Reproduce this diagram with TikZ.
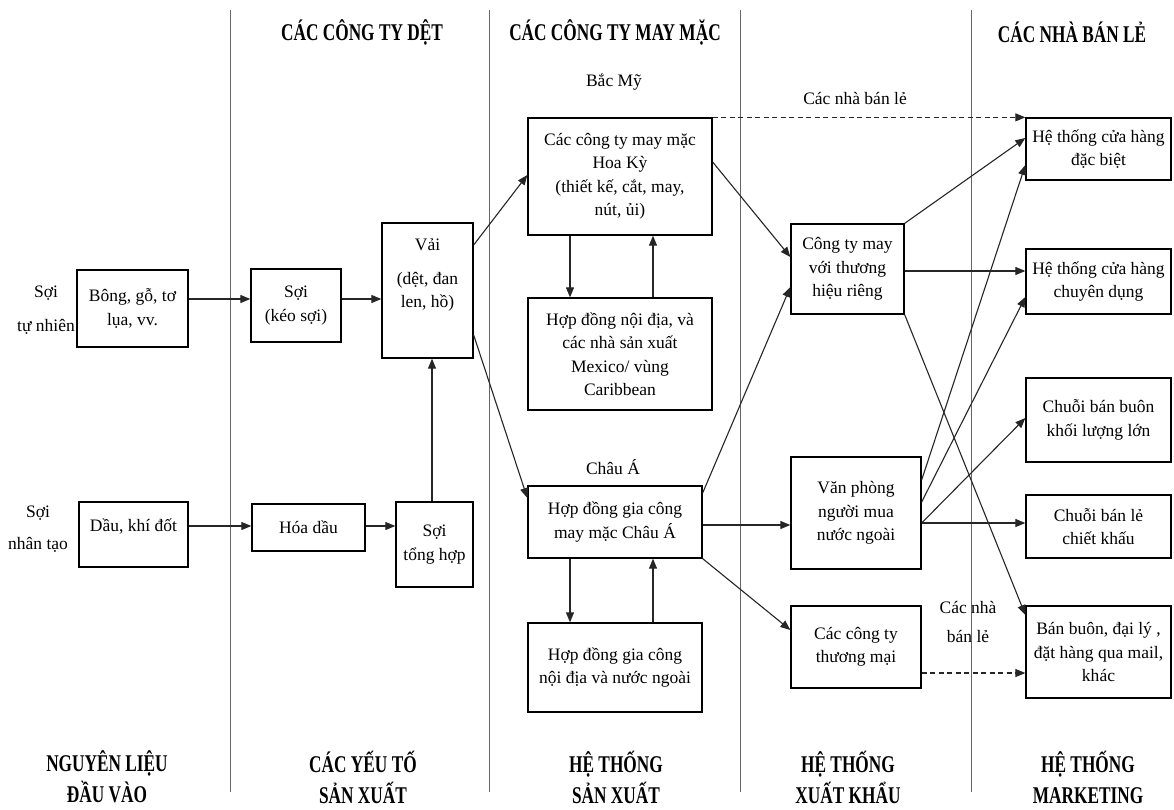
\documentclass[tikz,border=0pt]{standalone}
\usepackage{fontspec}
\setmainfont{Liberation Serif}
\newfontfamily\hdrfont[FakeStretch=0.72]{Liberation Serif}
\usetikzlibrary{arrows.meta}
\begin{document}
\begin{tikzpicture}[x=1pt,y=-1pt,
 bx/.style={draw, line width=1.3pt, align=center, inner sep=0pt, font=\fontsize{17.5}{23.5}\selectfont},
 lbl/.style={align=center, inner sep=0pt, font=\fontsize{17.5}{23.5}\selectfont},
 hdr/.style={align=center, inner sep=0pt, font=\hdrfont\bfseries\fontsize{24}{31}\selectfont},
 div/.style={draw=black!60, line width=1pt},
 arr/.style={draw=black!85, line width=1.1pt, -{Triangle[length=10pt,width=8pt]}},
 darr/.style={arr, dash pattern=on 5pt off 3.5pt},
]
\fill[white] (0,0) rectangle (1174,809);
\useasboundingbox (0,0) rectangle (1174,809);

% column dividers
\draw[div] (230,10) -- (230,792);
\draw[div] (489,10) -- (489,792);
\draw[div] (740,10) -- (740,792);
\draw[div] (971,10) -- (971,792);

% headers
\node[hdr] (h1) at (362,32) {CÁC CÔNG TY DỆT};
\node[hdr] (h2) at (615,32) {CÁC CÔNG TY MAY MẶC};
\node[hdr] (h3) at (1072,32) {CÁC NHÀ BÁN LẺ};

% footers
\node[hdr] (f1) at (107,777) {NGUYÊN LIỆU\\ĐẦU VÀO};
\node[hdr] (f2) at (363,777) {CÁC YẾU TỐ\\SẢN XUẤT};
\node[hdr] (f3) at (616,777) {HỆ THỐNG\\SẢN XUẤT};
\node[hdr] (f4) at (848,777) {HỆ THỐNG\\XUẤT KHẨU};
\node[hdr] (f5) at (1088,777) {HỆ THỐNG\\MARKETING};

% side labels
\node[lbl] (sn1) at (46,293) {Sợi};
\node[lbl] (sn2) at (46,327) {tự nhiên};
\node[lbl] (nt1) at (38,513) {Sợi};
\node[lbl] (nt2) at (38,545) {nhân tạo};
\node[lbl] (bacmy) at (614,82) {Bắc Mỹ};
\node[lbl] (chauAlbl) at (613,467) {Châu Á};
\node[lbl] (retail1) at (855,98) {Các nhà bán lẻ};
\node[lbl] (retail2) at (968,622) {Các nhà\\[5pt]bán lẻ};

% boxes
\node[bx, minimum width=111pt, minimum height=77pt] (bong) at (132.5,308.5) {Bông, gỗ, tơ\\lụa, vv.};
\node[bx, minimum width=90pt, minimum height=73pt] (soi) at (296,305.5) {Sợi\\(kéo sợi)};
\node[bx, minimum width=91pt, minimum height=135pt] (vai) at (427.5,290.5) {};
\node[lbl] (vaitxt) at (427.5,275) {Vải\\[10pt](dệt, đan\\len, hồ)};
\node[bx, minimum width=109pt, minimum height=65pt] (dau) at (133.5,534.5) {};
\node[lbl] (dautxt) at (133.5,526) {Dầu, khí đốt};
\node[bx, minimum width=113pt, minimum height=47pt] (hoadau) at (308.5,527.5) {Hóa dầu};
\node[bx, minimum width=77pt, minimum height=85pt] (tonghop) at (434.5,544.5) {Sợi\\tổng hợp};

\node[bx, minimum width=184pt, minimum height=117pt] (hoaky) at (620,176.5) {Các công ty may mặc\\Hoa Kỳ\\(thiết kế, cắt, may,\\nút, ủi)};
\node[bx, minimum width=184pt, minimum height=112pt] (mexico) at (620,354) {Hợp đồng nội địa, và\\các nhà sản xuất\\Mexico/ vùng\\Caribbean};
\node[bx, minimum width=174pt, minimum height=72pt] (chaua) at (615,522) {Hợp đồng gia công\\may mặc Châu Á};
\node[bx, minimum width=174pt, minimum height=89pt] (noidia) at (615,667.5) {Hợp đồng gia công\\nội địa và nước ngoài};

\node[bx, minimum width=113pt, minimum height=90pt] (congtymay) at (847.5,269) {Công ty may\\với thương\\hiệu riêng};
\node[bx, minimum width=130pt, minimum height=112pt] (vanphong) at (856,513) {Văn phòng\\người mua\\nước ngoài};
\node[bx, minimum width=130pt, minimum height=82pt] (thuongmai) at (856,647) {Các công ty\\thương mại};

\node[bx, minimum width=145pt, minimum height=62pt] (dacbiet) at (1098.5,149) {Hệ thống cửa hàng\\đặc biệt};
\node[bx, minimum width=145pt, minimum height=65pt] (chuyendung) at (1098.5,281.5) {Hệ thống cửa hàng\\chuyên dụng};
\node[bx, minimum width=145pt, minimum height=84pt] (khoiluong) at (1098.5,420) {Chuỗi bán buôn\\khối lượng lớn};
\node[bx, minimum width=145pt, minimum height=63pt] (chietkhau) at (1098.5,526.5) {Chuỗi bán lẻ\\chiết khấu};
\node[bx, minimum width=145pt, minimum height=92pt] (banbuon) at (1098.5,652) {Bán buôn, đại lý ,\\đặt hàng qua mail,\\khác};

% connectors
\draw[arr] (bong.east |- 0,299) -- (soi.west |- 0,299);
\draw[arr] (soi.east |- 0,299) -- (vai.west |- 0,299);
\draw[arr] (dau.east |- 0,526) -- (hoadau.west |- 0,526);
\draw[arr] (hoadau.east |- 0,526) -- (tonghop.west |- 0,526);
\draw[arr] (tonghop.north -| 432,0) -- (vai.south -| 432,0);
\draw[arr] (vai.east |- 0,245) -- (hoaky.west |- 0,175);
\draw[arr] (vai.east |- 0,335) -- (chaua.west |- 0,498);
\draw[arr] (hoaky.south -| 570,0) -- (mexico.north -| 570,0);
\draw[arr] (mexico.north -| 653,0) -- (hoaky.south -| 653,0);
\draw[arr] (chaua.south -| 570,0) -- (noidia.north -| 570,0);
\draw[arr] (noidia.north -| 653,0) -- (chaua.south -| 653,0);
\draw[arr] (hoaky.east |- 0,162) -- (congtymay.west |- 0,257);
\draw[arr] (chaua.east |- 0,493) -- (congtymay.west |- 0,287);
\draw[darr] (hoaky.north east) -- (dacbiet.north west);
\draw[arr] (congtymay.north east) -- (dacbiet.west |- 0,138);
\draw[arr] (congtymay.east |- 0,271) -- (chuyendung.west |- 0,271);
\draw[arr] (congtymay.south east) -- (banbuon.west |- 0,615);
\draw[arr] (chaua.east |- 0,525) -- (vanphong.west |- 0,525);
\draw[arr] (chaua.south east) -- (thuongmai.west |- 0,630);
\draw[arr] (vanphong.east |- 0,480) -- (dacbiet.west |- 0,165);
\draw[arr] (vanphong.east |- 0,502) -- (chuyendung.west |- 0,297);
\draw[arr] (vanphong.east |- 0,523) -- (khoiluong.west |- 0,418);
\draw[arr] (vanphong.east |- 0,523) -- (chietkhau.west |- 0,523);
\draw[darr] (thuongmai.east |- 0,673) -- (banbuon.west |- 0,673);
\end{tikzpicture}
\end{document}
